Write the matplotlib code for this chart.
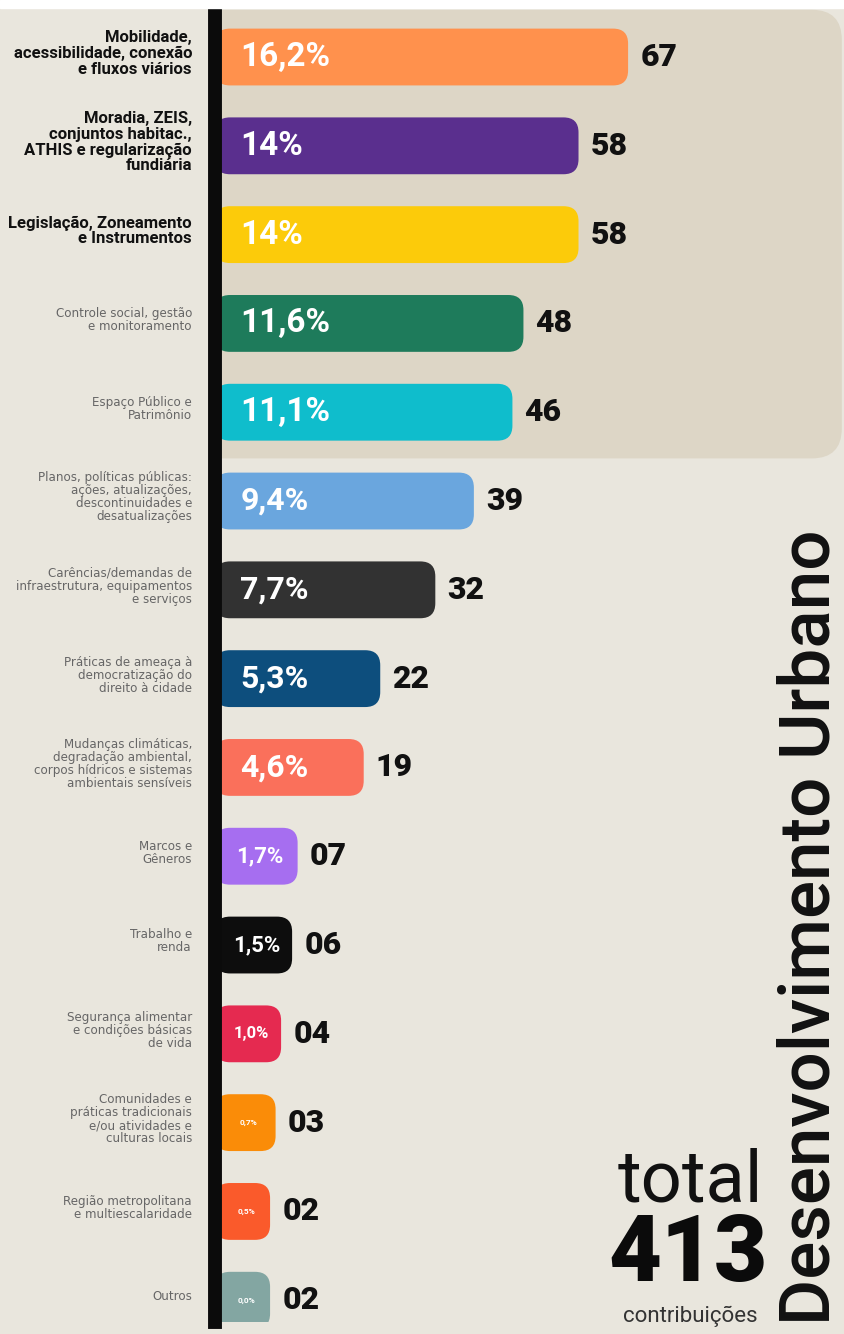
import matplotlib
matplotlib.use("Agg")
import matplotlib.pyplot as plt
from matplotlib.patches import FancyBboxPatch, Rectangle
from matplotlib import transforms

categories = [
    "Mobilidade,\nacessibilidade, conexão\ne fluxos viários",
    "Moradia, ZEIS,\nconjuntos habitac.,\nATHIS e regularização\nfundiária",
    "Legislação, Zoneamento\ne Instrumentos",
    "Controle social, gestão\ne monitoramento",
    "Espaço Público e\nPatrimônio",
    "Planos, políticas públicas:\nações, atualizações,\ndescontinuidades e\ndesatualizações",
    "Carências/demandas de\ninfraestrutura, equipamentos\ne serviços",
    "Práticas de ameaça à\ndemocratização do\ndireito à cidade",
    "Mudanças climáticas,\ndegradação ambiental,\ncorpos hídricos e sistemas\nambientais sensíveis",
    "Marcos e\nGêneros",
    "Trabalho e\nrenda",
    "Segurança alimentar\ne condições básicas\nde vida",
    "Comunidades e\npráticas tradicionais\ne/ou atividades e\nculturas locais",
    "Região metropolitana\ne multiescalaridade",
    "Outros",
]
counts = [67, 58, 58, 48, 46, 39, 32, 22, 19, 7, 6, 4, 3, 2, 2]
count_labels = ["67", "58", "58", "48", "46", "39", "32", "22", "19",
                "07", "06", "04", "03", "02", "02"]
pct_labels = ["16,2%", "14%", "14%", "11,6%", "11,1%", "9,4%", "7,7%", "5,3%",
              "4,6%", "1,7%", "1,5%", "1,0%", "0,7%", "0,5%", "0,0%"]
total = 413
title = "Desenvolvimento Urbano"
n_bold = 3        # first categories with bold labels
n_highlight = 5   # categories inside the shaded panel

# styles
colors = ["#ff914d", "#5a2f8e", "#fccb0a", "#1e7b5b", "#0fbdcc", "#6aa6de",
          "#323232", "#0d4e7d", "#fa705b", "#a66ef0", "#0d0d0d", "#e52a50",
          "#fa8c08", "#fa5a2b", "#83a6a2"]
pct_sizes = [24, 24, 24, 24, 24, 23, 23, 23, 23, 16, 16, 12, 6, 6, 6]
bg = "#e9e6dd"
panel = "#ddd6c6"

W, H = 844, 1334
fig = plt.figure(figsize=(W / 100, H / 100), dpi=100, facecolor=bg)

# white strip at the very top
fig.patches.append(Rectangle((0, 1 - 8 / H), 1, 8 / H, transform=fig.transFigure,
                             color="white", zorder=0))

ax = fig.add_axes([215 / W, 12 / H, (W - 215) / W, 1314 / H])
ax.set_facecolor("none")
xmin, xmax = -8, 106.2
ymin, ymax = 14.245, -0.552
ax.set_xlim(xmin, xmax)
ax.set_ylim(ymin, ymax)
ax.set_xticks([])
ax.set_yticks([])
for s in ["top", "right", "bottom"]:
    ax.spines[s].set_visible(False)
ax.spines["left"].set_linewidth(10)
ax.spines["left"].set_color("#0b0b0b")
ax.spines["left"].set_zorder(5)

ppx = ax.get_position().width * W / (xmax - xmin)
ppy = ax.get_position().height * H / abs(ymax - ymin)


def rounded(x, y, w, h, r_px, **kw):
    return FancyBboxPatch((x, y), w, h,
                          boxstyle=f"round,pad=0,rounding_size={r_px / ppx}",
                          mutation_aspect=ppx / ppy, **kw)


# shaded panel behind the top categories
ax.add_patch(rounded(xmin - 10, ymax + 0.02, xmax - xmin + 9.6,
                     n_highlight - 0.48 - (ymax + 0.02), 30,
                     facecolor=panel, edgecolor="none", zorder=0))

ypos = list(range(len(counts)))
bars = ax.barh(ypos, [c - xmin for c in counts], left=xmin, height=0.64,
               color=colors)
for b, col in zip(bars, colors):
    x, y, w, h = b.get_x(), b.get_y(), b.get_width(), b.get_height()
    b.set_visible(False)
    ax.add_patch(rounded(x, y, w, h, 15, facecolor=col, edgecolor="none",
                         zorder=2))

line_right = xmin + 7 / ppx
for i, (c, pl, cl) in enumerate(zip(counts, pct_labels, count_labels)):
    if c >= 15:
        ax.text(-3.4, i, pl, ha="left", va="center", color="white",
                fontsize=pct_sizes[i], fontweight="bold", family="Roboto",
                zorder=3)
    else:
        ax.text((line_right + c) / 2, i, pl, ha="center", va="center",
                color="white", fontsize=pct_sizes[i], fontweight="bold",
                family="Roboto", zorder=3)
    ax.text(c + 2.2, i, cl, ha="left", va="center", color="#111111",
            fontsize=23, fontweight="black", family="Roboto", zorder=3)

# category labels on the left panel
trans = transforms.blended_transform_factory(fig.transFigure, ax.transData)
for i, lab in enumerate(categories):
    if i < n_bold:
        ax.text(192 / W, i - 0.04, lab, transform=trans, ha="right",
                va="center", multialignment="right", fontsize=12,
                fontweight="bold", family="Roboto", color="#111111",
                linespacing=1.05)
    else:
        ax.text(192 / W, i - 0.04, lab, transform=trans, ha="right",
                va="center", multialignment="right", fontsize=8.6,
                family="DejaVu Sans", color="#666666", linespacing=1.0)

# total block
fig.text(690 / W, 1 - 1182 / H, "total", ha="center", va="center",
         fontsize=52, family="Roboto", color="#111111")
fig.text(688 / W, 1 - 1256 / H, str(total), ha="center", va="center",
         fontsize=66, fontweight="black", family="Roboto", color="#0b0b0b")
fig.text(690 / W, 1 - 1316 / H, "contribuições", ha="center", va="center",
         fontsize=16, family="Roboto", color="#333333")

# vertical title
fig.text(843 / W, 1 - 1325 / H, title, rotation=90, ha="right", va="bottom",
         fontsize=51, fontweight="medium", family="Roboto", color="#111111")

fig.savefig("out.png", dpi=100, facecolor=bg)
